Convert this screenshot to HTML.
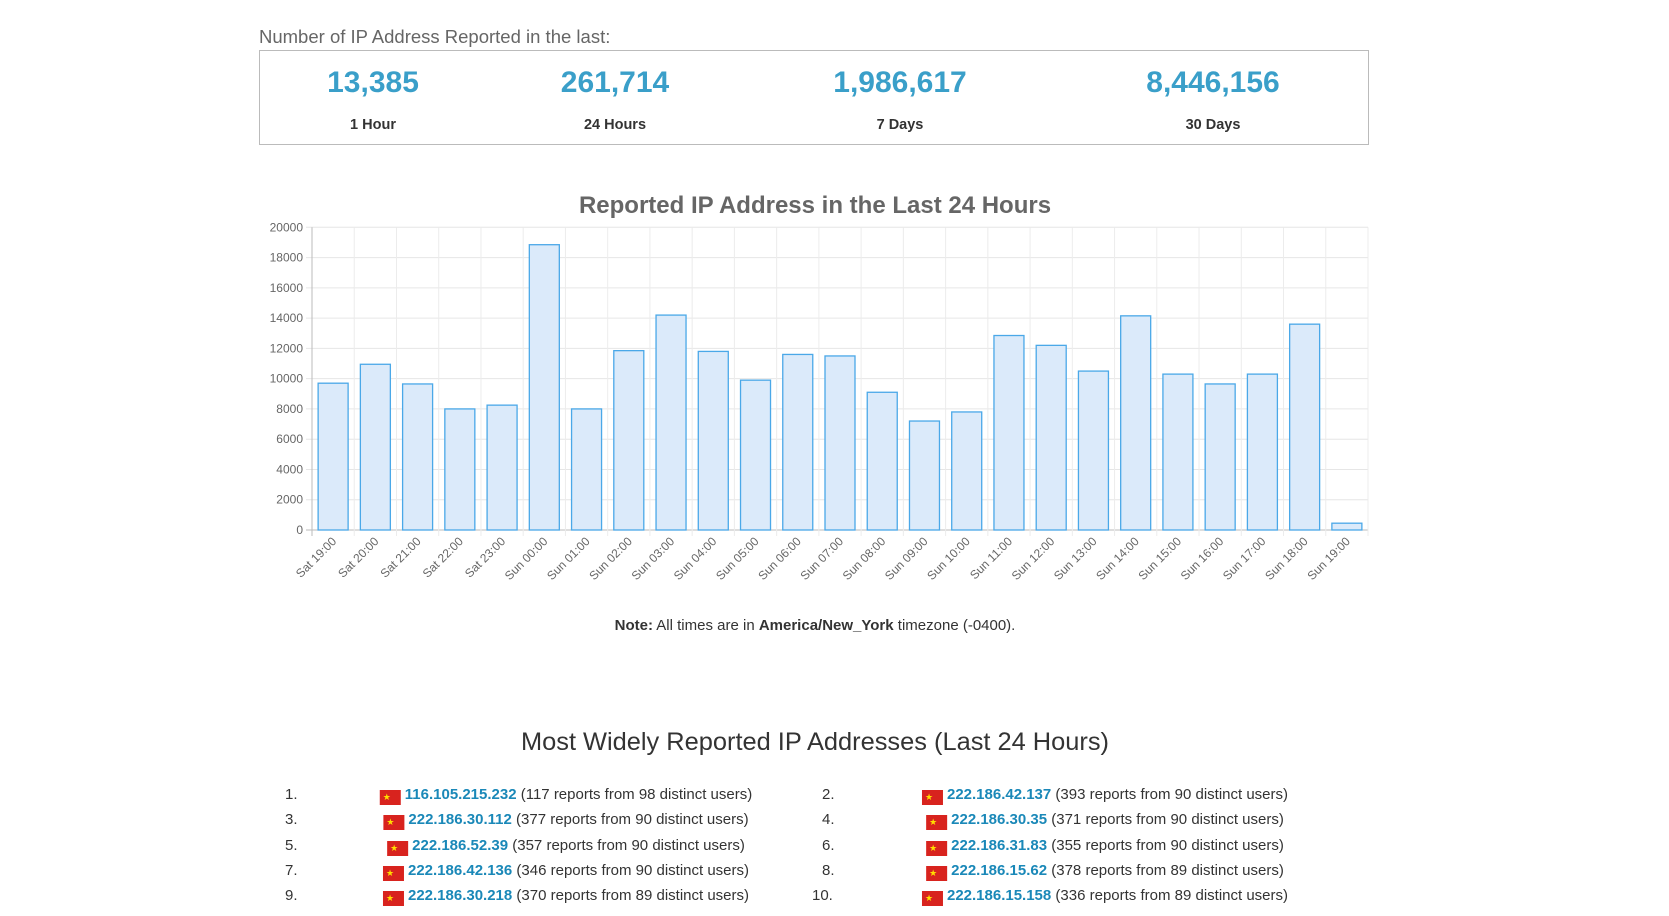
<!DOCTYPE html>
<html><head><meta charset="utf-8"><style>
body{margin:0;background:#fff;width:1669px;height:916px;overflow:hidden;font-family:"Liberation Sans",sans-serif;color:#333;position:relative}
.a{position:absolute}
.hdr{left:259px;top:26px;font-size:18.5px;color:#666}
.box{left:259px;top:50px;width:1108px;height:93px;border:1px solid #bbb}
.num{position:absolute;top:66px;font-size:30px;font-weight:bold;color:#3a9fc9;transform:translateX(-50%);white-space:nowrap}
.lab{position:absolute;top:117px;font-size:14.5px;font-weight:bold;color:#333;transform:translateX(-50%);white-space:nowrap}
.note{top:617px;left:0;width:1630px;text-align:center;font-size:15px}
.h2{top:728px;left:0;width:1630px;text-align:center;font-size:25.4px;color:#333}
.row{position:absolute;font-size:15px;white-space:nowrap}
.ip{color:#1a88b8;font-weight:bold}
.flag{display:inline-block;width:21px;height:15px;background:#d8231e;vertical-align:-1px;margin-right:4px;color:#ffde00;font-size:9px;line-height:15px;text-indent:3px}
</style></head><body>
<div class="a hdr">Number of IP Address Reported in the last:</div>
<div class="a box"></div>
<div class="num" style="left:373px">13,385</div><div class="lab" style="left:373px">1 Hour</div>
<div class="num" style="left:615px">261,714</div><div class="lab" style="left:615px">24 Hours</div>
<div class="num" style="left:900px">1,986,617</div><div class="lab" style="left:900px">7 Days</div>
<div class="num" style="left:1213px">8,446,156</div><div class="lab" style="left:1213px">30 Days</div>
<svg class="a" style="left:0;top:0" width="1669" height="916" font-family="Liberation Sans, sans-serif">
<text x="815" y="213" text-anchor="middle" font-size="24" font-weight="bold" fill="#666">Reported IP Address in the Last 24 Hours</text>
<g id="g"></g>
</svg>
<div class="a note"><b>Note:</b> All times are in <b>America/New_York</b> timezone (-0400).</div>
<div class="a h2">Most Widely Reported IP Addresses (Last 24 Hours)</div>
<div id="list"></div>
<script>
var v=[9700,10950,9650,8000,8250,18850,8000,11850,14200,11800,9900,11600,11500,9100,7200,7800,12850,12200,10500,14150,10300,9650,10300,13600,450];
var L=["Sat 19:00","Sat 20:00","Sat 21:00","Sat 22:00","Sat 23:00","Sun 00:00","Sun 01:00","Sun 02:00","Sun 03:00","Sun 04:00","Sun 05:00","Sun 06:00","Sun 07:00","Sun 08:00","Sun 09:00","Sun 10:00","Sun 11:00","Sun 12:00","Sun 13:00","Sun 14:00","Sun 15:00","Sun 16:00","Sun 17:00","Sun 18:00","Sun 19:00"];
var x0=312,x1=1368,y0=530,yt=227.3,p=(x1-x0)/25,s="";
for(var i=0;i<=10;i++){var y=y0-(y0-yt)*i/10;s+='<line x1="'+(x0-6)+'" x2="'+x1+'" y1="'+y+'" y2="'+y+'" stroke="'+(i==0?'#bbb':'#e6e6e6')+'"/>';s+='<text x="'+(x0-9)+'" y="'+(y+4)+'" text-anchor="end" font-size="12" fill="#666">'+(i*2000)+'</text>';}
for(var i=0;i<=25;i++){var x=x0+p*i;s+='<line x1="'+x+'" x2="'+x+'" y1="'+yt+'" y2="'+(y0+6)+'" stroke="'+(i==0?'#bbb':'#ececec')+'"/>';}
for(var i=0;i<25;i++){var cx=x0+p*(i+0.5),h=(y0-yt)*v[i]/20000;s+='<rect x="'+(cx-15)+'" y="'+(y0-h)+'" width="30" height="'+h+'" fill="#dbeafa" stroke="#4aa8e8" stroke-width="1.3"/>';
s+='<text transform="translate('+(cx+4)+','+(y0+12)+') rotate(-45)" text-anchor="end" font-size="12" fill="#666">'+L[i]+'</text>';}
document.getElementById('g').innerHTML=s;
var r=[["116.105.215.232","117","98",1],["222.186.42.137","393","90"],["222.186.30.112","377","90"],["222.186.30.35","371","90"],["222.186.52.39","357","90"],["222.186.31.83","355","90"],["222.186.42.136","346","90"],["222.186.15.62","378","89"],["222.186.30.218","370","89"],["222.186.15.158","336","89"]];
var h="";
for(var i=0;i<10;i++){var c=i%2,y=786+Math.floor(i/2)*25.3;var nx=c?(i==9?812:822):285,tc=c?1105:566;
h+='<div class="row" style="left:'+nx+'px;top:'+y+'px">'+(i+1)+'.</div>';
h+='<div class="row" style="left:'+tc+'px;top:'+y+'px;transform:translateX(-50%)"><span class="flag">★</span><span class="ip">'+r[i][0]+'</span> ('+r[i][1]+' reports from '+r[i][2]+' distinct users)</div>';}
document.getElementById('list').innerHTML=h;
</script>
</body></html>
